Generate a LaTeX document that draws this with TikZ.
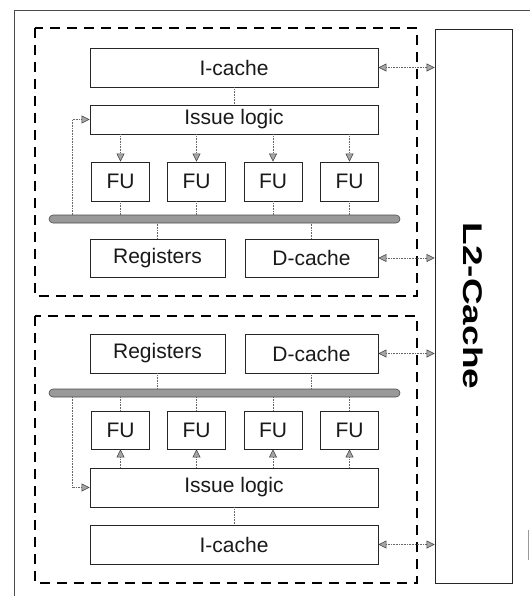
\documentclass[tikz,border=0pt]{standalone}
\usepackage{fontspec}
\setmainfont{Liberation Sans}
\usetikzlibrary{arrows.meta}
\begin{document}
\begin{tikzpicture}[x=1pt,y=-1pt,
  box/.style={draw=black!85, line width=0.8pt, fill=white, inner sep=0pt, font=\fontsize{21}{24}\selectfont, text=black!90},
  fubox/.style={box, minimum width=58pt, minimum height=39pt},
  busbar/.style={draw=black!70, line width=0.6pt, fill=black!40, rounded corners=4pt, minimum width=351pt, minimum height=8pt, inner sep=0pt},
  group/.style={draw=black, line width=1.8pt, dash pattern=on 10pt off 7pt},
  conn/.style={draw=black!60, line width=0.6pt, densely dotted},
  tipp/.tip={Triangle[length=8pt, width=8pt, fill=black!35, color=black!75, line width=0.6pt]},
  ]
\useasboundingbox (0,0) rectangle (530,596);
% outer frame
\draw[black!70, line width=0.8pt] (14,596) -- (14,10) -- (530,10);
\draw[black!40, line width=0.8pt] (528,530) -- (528,560);
% groups
\draw[group] (35,28) rectangle (417,296);
\draw[group] (35,316) rectangle (417,583);
% L2
\node[draw=black!85, line width=0.8pt, minimum width=77pt, minimum height=554pt, inner sep=0pt] (l2) at (473.5,306) {};
\node[rotate=-90, inner sep=0pt, font=\bfseries\fontsize{27}{30}\selectfont] (l2t) at (473,306) {\scalebox{1.37}[1]{L2-Cache}};

% ---------- top core ----------
\node[box, minimum width=288pt, minimum height=39pt] (ic1) at (234,67.5) {I-cache};
\node[box, minimum width=288pt, minimum height=29pt] (il1) at (234,119.5) {Issue logic};
\node[fubox] (fa1) at (120.5,181.5) {FU};
\node[fubox] (fb1) at (196.5,181.5) {FU};
\node[fubox] (fc1) at (273,181.5) {FU};
\node[fubox] (fd1) at (349.5,181.5) {FU};
\node[busbar] (bus1) at (224.5,219) {};
\node[box, minimum width=135pt, minimum height=38pt] (rg1) at (157.5,258) {Registers};
\node[box, minimum width=133pt, minimum height=38pt] (dc1) at (311.5,258) {D-cache};
\coordinate (fbk1) at (72,215);

\draw[conn] (ic1.south) -- (il1.north);
\foreach \f in {fa1,fb1,fc1,fd1}{
  \draw[conn,-tipp] (il1.south -| \f) -- (\f.north);
  \draw[conn] (\f.south) -- (\f.south |- bus1.north);
}
\draw[conn] (rg1.north) -- (rg1.north |- bus1.south);
\draw[conn] (dc1.north) -- (dc1.north |- bus1.south);
\draw[conn,-tipp] (fbk1) |- (il1.west);
\draw[conn,tipp-tipp] (ic1.east) -- (ic1.east -| l2.west);
\draw[conn,tipp-tipp] (dc1.east) -- (dc1.east -| l2.west);

% ---------- bottom core ----------
\node[box, minimum width=135pt, minimum height=39pt] (rg2) at (157.5,353.5) {Registers};
\node[box, minimum width=133pt, minimum height=39pt] (dc2) at (311.5,353.5) {D-cache};
\node[busbar] (bus2) at (224.5,393) {};
\node[fubox, minimum height=38pt] (fa2) at (120.5,430) {FU};
\node[fubox, minimum height=38pt] (fb2) at (196.5,430) {FU};
\node[fubox, minimum height=38pt] (fc2) at (273,430) {FU};
\node[fubox, minimum height=38pt] (fd2) at (349.5,430) {FU};
\node[box, minimum width=288pt, minimum height=39pt] (il2) at (234,487.5) {Issue logic};
\node[box, minimum width=288pt, minimum height=39pt] (ic2) at (234,544.5) {I-cache};
\coordinate (fbk2) at (72,397);

\draw[conn] (il2.south) -- (ic2.north);
\foreach \f in {fa2,fb2,fc2,fd2}{
  \draw[conn,-tipp] (il2.north -| \f) -- (\f.south);
  \draw[conn] (\f.north) -- (\f.north |- bus2.south);
}
\draw[conn] (rg2.south) -- (rg2.south |- bus2.north);
\draw[conn] (dc2.south) -- (dc2.south |- bus2.north);
\draw[conn,-tipp] (fbk2) |- (il2.west);
\draw[conn,tipp-tipp] (dc2.east) -- (dc2.east -| l2.west);
\draw[conn,tipp-tipp] (ic2.east) -- (ic2.east -| l2.west);
\end{tikzpicture}
\end{document}
